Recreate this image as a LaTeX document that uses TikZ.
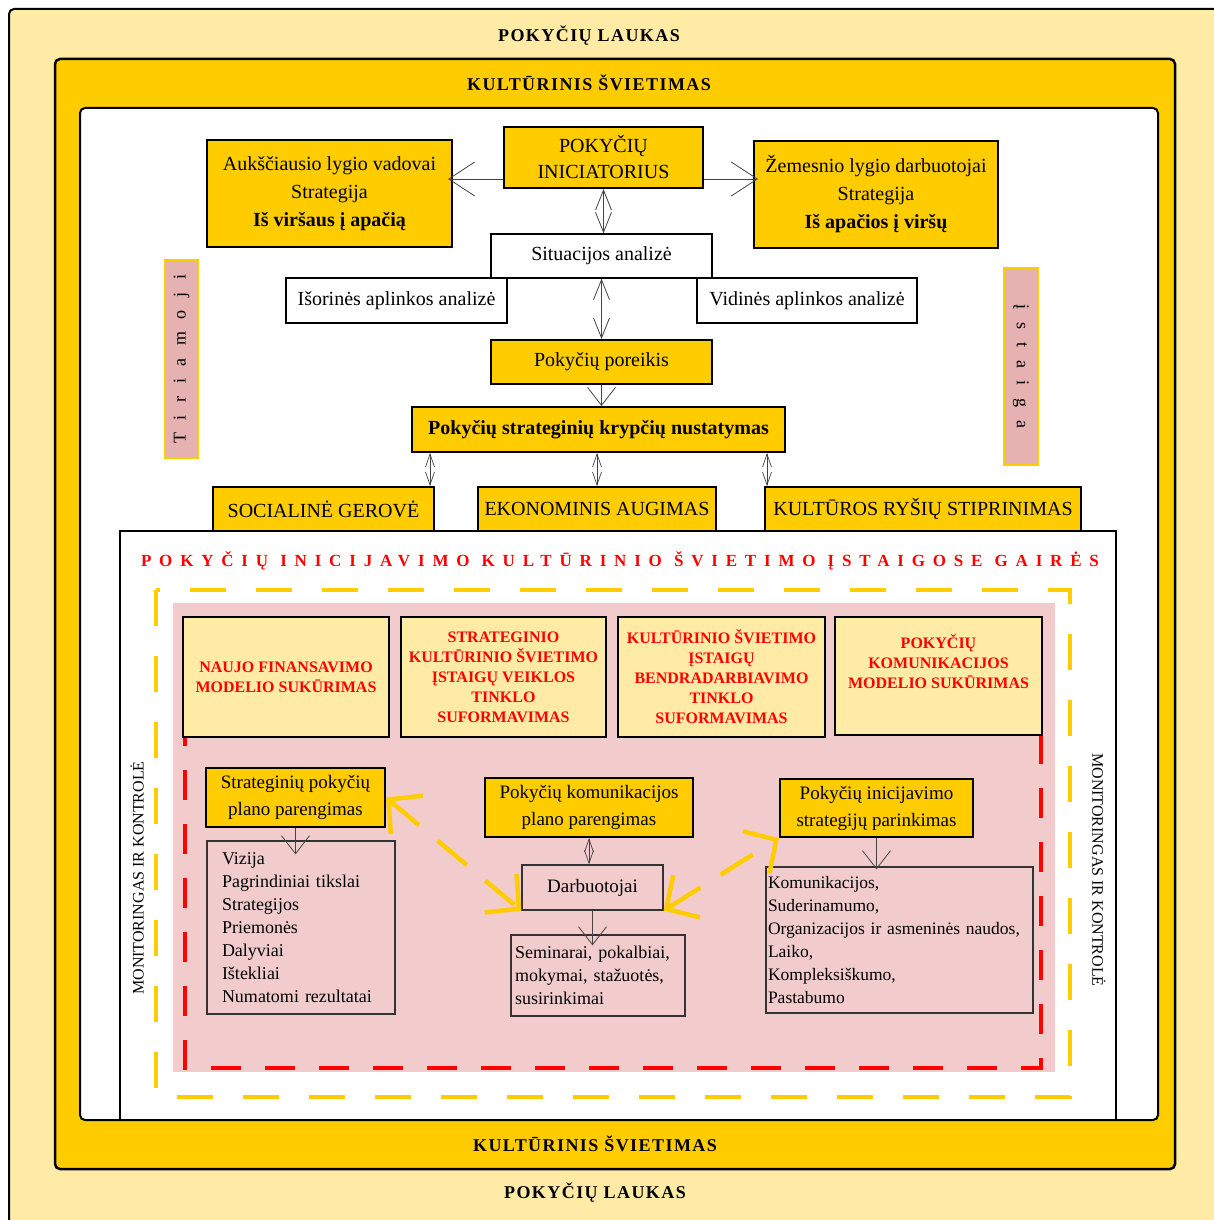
\documentclass[tikz,border=0pt]{standalone}
\usepackage{fontspec}
\setmainfont{Liberation Serif}
\usetikzlibrary{arrows.meta,calc}
\newcommand\fsz[2]{\fontsize{#1}{#2}\selectfont}
\definecolor{myyellow}{HTML}{FFCC00}
\definecolor{lightyel}{HTML}{FFEBA6}
\definecolor{pinkbg}{HTML}{F2CCCC}
\definecolor{pinklab}{HTML}{E6B1B1}
\definecolor{redt}{HTML}{FF0000}
\definecolor{arrgray}{HTML}{444444}
\begin{document}
\begin{tikzpicture}[x=1pt,y=-1pt,
  ybox/.style={draw=black, fill=myyellow, line width=2pt, inner sep=0pt, align=center, font=\fsz{20}{26}},
  wbox/.style={draw=black, fill=white, line width=1.3pt, inner sep=0pt, align=center, font=\fsz{20}{24}},
  lbox/.style={draw=black!80, line width=1.3pt, inner sep=0pt, inner xsep=4pt, align=left, font=\fsz{18}{23}},
  gbox/.style={draw=black, fill=lightyel, line width=2.5pt, inner sep=0pt, align=center, text=redt, font=\bfseries\fsz{16}{20}},
  sidelab/.style={draw=myyellow, fill=pinklab, line width=1.5pt, inner sep=0pt, font=\fsz{18}{20}},
  title/.style={font=\bfseries\fsz{18}{20}\addfontfeatures{LetterSpace=8}},
  mon/.style={font=\fsz{16}{20}},
  bigvee/.style={draw=arrgray, line width=0.8pt, -{Straight Barb[length=26pt,width=34pt,line width=0.8pt]}},
  medvee/.style={draw=arrgray, line width=0.8pt, -{Straight Barb[length=18pt,width=28pt,line width=0.8pt]}},
  dvee/.style={draw=arrgray, line width=0.8pt, {Straight Barb[length=20pt,width=16pt,line width=0.8pt]}-{Straight Barb[length=20pt,width=16pt,line width=0.8pt]}},
  svee/.style={draw=arrgray, line width=0.7pt, {Straight Barb[length=13pt,width=9pt,line width=0.7pt]}-{Straight Barb[length=13pt,width=9pt,line width=0.7pt]}},
  yarr/.style={draw=myyellow, line width=4.5pt, dash pattern=on 38pt off 24pt, {Straight Barb[length=24pt,width=50pt,line width=4.5pt]}-{Straight Barb[length=24pt,width=50pt,line width=4.5pt]}}
]
\useasboundingbox (0,0) rectangle (1214,1220);
\fill[white] (0,0) rectangle (1214,1220);
\begin{scope}
\clip (0,0) rectangle (1214,1220);
\draw[fill=lightyel, line width=2pt, rounded corners=5pt] (9,9) rectangle (1240,1240);
\end{scope}
\draw[fill=myyellow, line width=2.5pt, rounded corners=5pt] (55,59) rectangle (1175,1169);
\draw[fill=white, line width=2pt, rounded corners=5pt] (80,108) rectangle (1158,1120);
\draw[line width=2pt] (120,1119) -- (120,531) -- (1116,531) -- (1116,1119);

% titles
\node[title] (t1) at (589,36) {POKYČIŲ LAUKAS};
\node[title] (t2) at (589,83) {KULTŪRINIS ŠVIETIMAS};
\node[title] (t3) at (595,1144) {KULTŪRINIS ŠVIETIMAS};
\node[title] (t4) at (595,1193) {POKYČIŲ LAUKAS};

% side labels
\node[sidelab, minimum width=198, minimum height=33, rotate=90] (tir) at (181.5,359) {\addfontfeatures{LetterSpace=70}Tiriamoji};
\node[sidelab, minimum width=197, minimum height=34, rotate=-90] (ist) at (1021,366.5) {\addfontfeatures{LetterSpace=72}įstaiga};

% top part
\node[ybox, minimum width=245, minimum height=107, font=\fsz{20}{28}] (lb) at (329.5,193.5) {Aukščiausio lygio vadovai\\Strategija\\\textbf{Iš viršaus į apačią}};
\node[ybox, minimum width=199, minimum height=61] (ini) at (603.5,157.5) {POKYČIŲ\\INICIATORIUS};
\node[ybox, minimum width=244, minimum height=107, font=\fsz{20}{28}] (rb) at (876,194.5) {Žemesnio lygio darbuotojai\\Strategija\\\textbf{Iš apačios į viršų}};
\node[wbox, minimum width=221, minimum height=44] (sit) at (601.5,256) {Situacijos analizė};
\node[wbox, minimum width=221, minimum height=45] (isor) at (396.5,300.5) {Išorinės aplinkos analizė};
\node[wbox, minimum width=220, minimum height=45] (vid) at (807,300.5) {Vidinės aplinkos analizė};
\node[ybox, minimum width=221, minimum height=44] (por) at (601.5,362) {Pokyčių poreikis};
\node[ybox, minimum width=373, minimum height=45, font=\bfseries\fsz{20}{24}] (kryp) at (598.5,429.5) {Pokyčių strateginių krypčių nustatymas};
\node[ybox, minimum width=221, minimum height=44] (soc) at (323.5,509) {SOCIALINĖ GEROVĖ};
\node[ybox, minimum width=238, minimum height=44] (eko) at (597,509) {EKONOMINIS AUGIMAS};
\node[ybox, minimum width=316, minimum height=44] (kul) at (923,509) {KULTŪROS RYŠIŲ STIPRINIMAS};

\coordinate (a1) at ($(ini.south west)+(0,-10)$);
\coordinate (a2) at ($(ini.south east)+(0,-10)$);
\draw[bigvee, shorten >=-5pt] (a1) -- (a1 -| lb.east);
\draw[bigvee, shorten >=-5pt] (a2) -- (a2 -| rb.west);
\draw[dvee] (ini.south) -- (ini.south |- sit.north);
\draw[dvee] (sit.south) -- (por.north);
\draw[medvee] (por.south) -- (por.south |- kryp.north);
\draw[svee] ($(soc.north east |- kryp.south)+(-5,0)$) -- ($(soc.north east)+(-5,0)$);
\draw[svee] (eko.north |- kryp.south) -- (eko.north);
\draw[svee] ($(kul.north west |- kryp.south)+(3,0)$) -- ($(kul.north west)+(3,0)$);

% heading
\node[font=\bfseries\fsz{17}{20}\addfontfeatures{LetterSpace=46}, text=redt] (head) at (620,561) {POKYČIŲ INICIJAVIMO KULTŪRINIO ŠVIETIMO ĮSTAIGOSE GAIRĖS};

% lower area
\draw[myyellow, line width=4.5pt, dash pattern=on 36pt off 30pt] (156,590) rectangle (1070,1097);
\fill[pinkbg] (173,603) rectangle (1055,1072);
\draw[redt, line width=3.5pt, dash pattern=on 30pt off 24pt] (185,716) rectangle (1041,1068);

\node[gbox, minimum width=206, minimum height=120] (b1) at (286,677) {NAUJO FINANSAVIMO\\MODELIO SUKŪRIMAS};
\node[gbox, minimum width=205, minimum height=120] (b2) at (503.5,677) {STRATEGINIO\\KULTŪRINIO ŠVIETIMO\\ĮSTAIGŲ VEIKLOS\\TINKLO\\SUFORMAVIMAS};
\node[gbox, minimum width=207, minimum height=120] (b3) at (721.5,677) {KULTŪRINIO ŠVIETIMO\\ĮSTAIGŲ\\BENDRADARBIAVIMO\\TINKLO\\SUFORMAVIMAS};
\node[gbox, minimum width=207, minimum height=118] (b4) at (938.5,676) {POKYČIŲ\\KOMUNIKACIJOS\\MODELIO SUKŪRIMAS\\[8pt]};

\node[mon, rotate=90] (m1) at (137,878) {MONITORINGAS IR KONTROLĖ};
\node[mon, rotate=-90] (m2) at (1099,870) {MONITORINGAS IR KONTROLĖ};

\node[ybox, minimum width=179, minimum height=59, font=\fsz{19}{27}] (sp) at (295.5,797.5) {Strateginių pokyčių\\plano parengimas};
\node[lbox, minimum width=188, minimum height=173, text width=158, inner xsep=15pt] (spl) at (301,927.5) {Vizija\\Pagrindiniai tikslai\\Strategijos\\Priemonės\\Dalyviai\\Ištekliai\\Numatomi rezultatai};
\node[ybox, minimum width=208, minimum height=59, font=\fsz{19}{27}] (kom) at (589,807.5) {Pokyčių komunikacijos\\plano parengimas};
\node[lbox, align=center, minimum width=141, minimum height=45, font=\fsz{19}{23}] (dar) at (592.5,887.5) {Darbuotojai};
\node[lbox, minimum width=174, minimum height=81, text width=166] (sem) at (598,975.5) {Seminarai, pokalbiai,\\mokymai, stažuotės,\\susirinkimai};
\node[ybox, minimum width=193, minimum height=58, font=\fsz{19}{27}] (inic) at (876.5,808) {Pokyčių inicijavimo\\strategijų parinkimas};
\node[lbox, minimum width=267, minimum height=146, text width=263, inner xsep=2pt, font=\fsz{17.5}{23}, execute at begin node={\hyphenpenalty=10000\relax}] (inl) at (899.5,940) {Komunikacijos,\\Suderinamumo,\\Organizacijos ir asmeninės naudos,\\Laiko,\\Kompleksiškumo,\\Pastabumo};

\draw[medvee, shorten >=-14pt] (sp.south) -- (sp.south |- spl.north);
\draw[svee] (kom.south) -- (kom.south |- dar.north);
\draw[medvee, shorten >=-11pt] (dar.south) -- (dar.south |- sem.north);
\draw[medvee, shorten >=-3pt] (inic.south) -- (inic.south |- inl.north);
\draw[yarr] (sp.east) -- (dar.south west);
\draw[yarr] (dar.south east) -- (inic.south west);
\end{tikzpicture}
\end{document}
